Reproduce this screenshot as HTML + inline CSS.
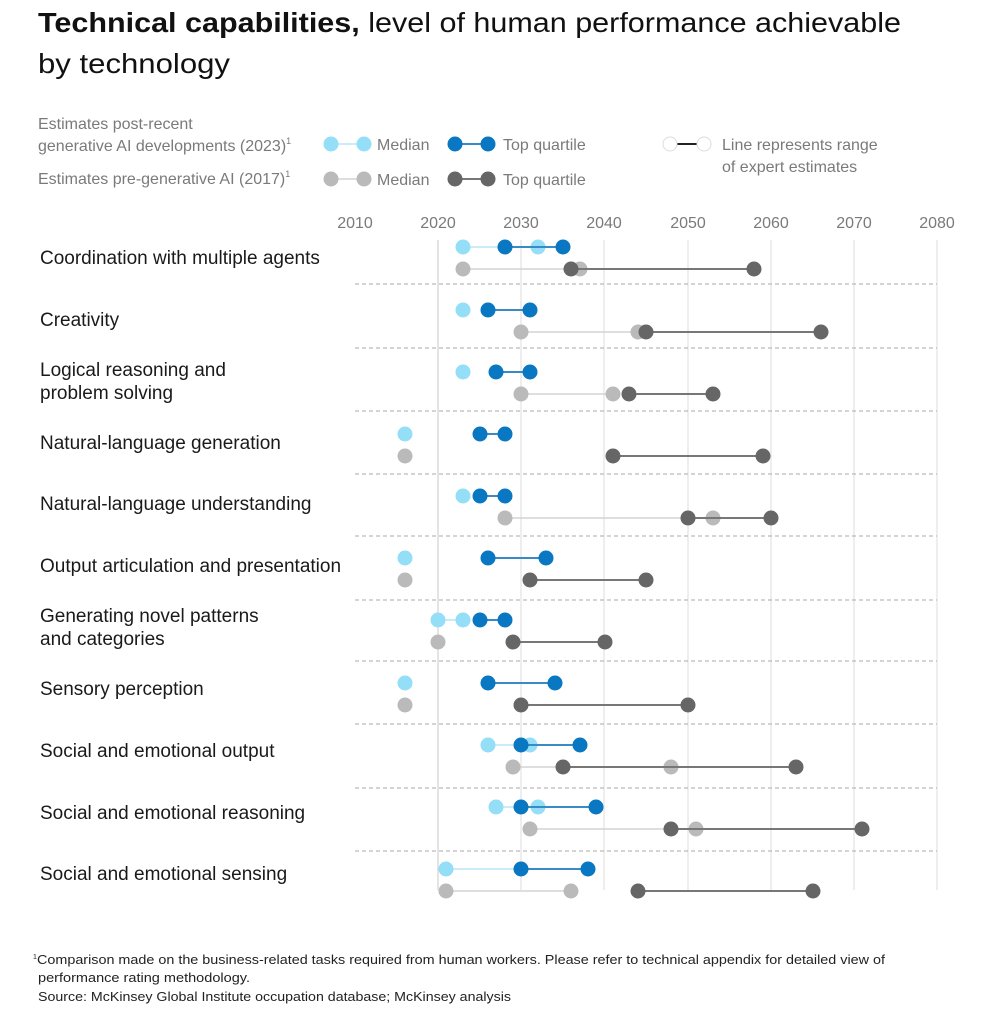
<!DOCTYPE html>
<html><head><meta charset="utf-8"><style>
html,body{margin:0;padding:0;background:#fff;}
svg{display:block;font-family:"Liberation Sans",sans-serif;}
</style></head><body>
<svg width="990" height="1024" viewBox="0 0 990 1024" xmlns="http://www.w3.org/2000/svg">
<text x="38" y="32" font-size="28" fill="#111" textLength="863" lengthAdjust="spacingAndGlyphs"><tspan font-weight="bold">Technical capabilities,</tspan> level of human performance achievable</text>
<text x="38" y="73" font-size="28" fill="#111" textLength="192" lengthAdjust="spacingAndGlyphs">by technology</text>

<g font-size="16" fill="#7a7a7a">
<text x="38" y="129">Estimates post-recent</text>
<text x="38" y="151">generative AI developments (2023)<tspan font-size="9" dy="-7">1</tspan></text>
<text x="38" y="184">Estimates pre-generative AI (2017)<tspan font-size="9" dy="-7">1</tspan></text>
<text x="377" y="150">Median</text><text x="503" y="150">Top quartile</text>
<text x="377" y="185">Median</text><text x="503" y="185">Top quartile</text>
<text x="722" y="150">Line represents range</text>
<text x="722" y="172">of expert estimates</text>
</g>
<g>
<line x1="331" y1="144" x2="364" y2="144" stroke="#b8e6f5" stroke-width="1.5"/>
<circle cx="331" cy="144" r="7.5" fill="#94def7"/><circle cx="364" cy="144" r="7.5" fill="#94def7"/>
<line x1="455" y1="144" x2="488" y2="144" stroke="#3a8ac6" stroke-width="2"/>
<circle cx="455" cy="144" r="7.5" fill="#0a77c2"/><circle cx="488" cy="144" r="7.5" fill="#0a77c2"/>
<line x1="331" y1="179" x2="364" y2="179" stroke="#d4d4d4" stroke-width="1.5"/>
<circle cx="331" cy="179" r="7.5" fill="#bababa"/><circle cx="364" cy="179" r="7.5" fill="#bababa"/>
<line x1="455" y1="179" x2="488" y2="179" stroke="#777" stroke-width="2"/>
<circle cx="455" cy="179" r="7.5" fill="#666"/><circle cx="488" cy="179" r="7.5" fill="#666"/>
<line x1="677" y1="144" x2="697" y2="144" stroke="#222" stroke-width="2"/>
<circle cx="670" cy="144" r="7" fill="#fff" stroke="#ddd"/><circle cx="704" cy="144" r="7" fill="#fff" stroke="#ddd"/>
</g>

<g font-size="16" fill="#7a7a7a" text-anchor="middle">
<text x="355" y="228">2010</text><text x="438" y="228">2020</text><text x="521" y="228">2030</text><text x="604" y="228">2040</text><text x="688" y="228">2050</text><text x="771" y="228">2060</text><text x="854" y="228">2070</text><text x="937" y="228">2080</text>
</g>
<g stroke="#dcdcdc" stroke-width="1">
<line x1="438" y1="240" x2="438" y2="890" stroke="#c8c8c8"/><line x1="521" y1="240" x2="521" y2="890"/><line x1="604" y1="240" x2="604" y2="890"/><line x1="688" y1="240" x2="688" y2="890"/><line x1="771" y1="240" x2="771" y2="890"/><line x1="854" y1="240" x2="854" y2="890"/><line x1="937" y1="240" x2="937" y2="890"/>
</g>
<g stroke="#aaa" stroke-width="1" stroke-dasharray="4,3">
<line x1="355" y1="284" x2="937" y2="284"/><line x1="355" y1="348" x2="937" y2="348"/><line x1="355" y1="411" x2="937" y2="411"/><line x1="355" y1="474" x2="937" y2="474"/><line x1="355" y1="536" x2="937" y2="536"/><line x1="355" y1="600" x2="937" y2="600"/><line x1="355" y1="661" x2="937" y2="661"/><line x1="355" y1="724" x2="937" y2="724"/><line x1="355" y1="788" x2="937" y2="788"/><line x1="355" y1="851" x2="937" y2="851"/>
</g>

<g font-size="19" fill="#1a1a1a">
<text x="40" y="264">Coordination with multiple agents</text>
<text x="40" y="326">Creativity</text>
<text x="40" y="376">Logical reasoning and</text><text x="40" y="399">problem solving</text>
<text x="40" y="449">Natural-language generation</text>
<text x="40" y="510">Natural-language understanding</text>
<text x="40" y="572">Output articulation and presentation</text>
<text x="40" y="622">Generating novel patterns</text><text x="40" y="645">and categories</text>
<text x="40" y="695">Sensory perception</text>
<text x="40" y="757">Social and emotional output</text>
<text x="40" y="819">Social and emotional reasoning</text>
<text x="40" y="880">Social and emotional sensing</text>
</g>

<!-- median lines (light) -->
<g stroke-width="1.5">
<line x1="463" y1="247" x2="538" y2="247" stroke="#b8e6f5"/>
<line x1="463" y1="269" x2="580" y2="269" stroke="#d4d4d4"/>
<line x1="521" y1="332" x2="638" y2="332" stroke="#d4d4d4"/>
<line x1="521" y1="394" x2="613" y2="394" stroke="#d4d4d4"/>
<line x1="505" y1="518" x2="713" y2="518" stroke="#d4d4d4"/>
<line x1="438" y1="620" x2="463" y2="620" stroke="#b8e6f5"/>
<line x1="488" y1="745" x2="530" y2="745" stroke="#b8e6f5"/>
<line x1="513" y1="767" x2="671" y2="767" stroke="#d4d4d4"/>
<line x1="496" y1="807" x2="538" y2="807" stroke="#b8e6f5"/>
<line x1="530" y1="829" x2="696" y2="829" stroke="#d4d4d4"/>
<line x1="446" y1="869" x2="521" y2="869" stroke="#b8e6f5"/>
<line x1="446" y1="891" x2="571" y2="891" stroke="#d4d4d4"/>
</g>
<g fill="#94def7">
<circle cx="463" cy="247" r="7.5"/><circle cx="538" cy="247" r="7.5"/>
<circle cx="463" cy="310" r="7.5"/>
<circle cx="463" cy="372" r="7.5"/>
<circle cx="405" cy="434" r="7.5"/>
<circle cx="463" cy="496" r="7.5"/>
<circle cx="405" cy="558" r="7.5"/>
<circle cx="438" cy="620" r="7.5"/><circle cx="463" cy="620" r="7.5"/>
<circle cx="405" cy="683" r="7.5"/>
<circle cx="488" cy="745" r="7.5"/><circle cx="530" cy="745" r="7.5"/>
<circle cx="496" cy="807" r="7.5"/><circle cx="538" cy="807" r="7.5"/>
<circle cx="446" cy="869" r="7.5"/>
</g>
<g fill="#bababa">
<circle cx="463" cy="269" r="7.5"/><circle cx="580" cy="269" r="7.5"/>
<circle cx="521" cy="332" r="7.5"/><circle cx="638" cy="332" r="7.5"/>
<circle cx="521" cy="394" r="7.5"/><circle cx="613" cy="394" r="7.5"/>
<circle cx="405" cy="456" r="7.5"/>
<circle cx="505" cy="518" r="7.5"/><circle cx="713" cy="518" r="7.5"/>
<circle cx="405" cy="580" r="7.5"/>
<circle cx="438" cy="642" r="7.5"/>
<circle cx="405" cy="705" r="7.5"/>
<circle cx="513" cy="767" r="7.5"/><circle cx="671" cy="767" r="7.5"/>
<circle cx="530" cy="829" r="7.5"/><circle cx="696" cy="829" r="7.5"/>
<circle cx="446" cy="891" r="7.5"/><circle cx="571" cy="891" r="7.5"/>
</g>
<!-- top quartile -->
<g stroke-width="2" stroke="#3a8ac6">
<line x1="505" y1="247" x2="563" y2="247"/>
<line x1="488" y1="310" x2="530" y2="310"/>
<line x1="496" y1="372" x2="530" y2="372"/>
<line x1="480" y1="434" x2="505" y2="434"/>
<line x1="480" y1="496" x2="505" y2="496"/>
<line x1="488" y1="558" x2="546" y2="558"/>
<line x1="480" y1="620" x2="505" y2="620"/>
<line x1="488" y1="683" x2="555" y2="683"/>
<line x1="521" y1="745" x2="580" y2="745"/>
<line x1="521" y1="807" x2="596" y2="807"/>
<line x1="521" y1="869" x2="588" y2="869"/>
</g>
<g stroke-width="2" stroke="#777">
<line x1="571" y1="269" x2="754" y2="269"/>
<line x1="646" y1="332" x2="821" y2="332"/>
<line x1="629" y1="394" x2="713" y2="394"/>
<line x1="613" y1="456" x2="763" y2="456"/>
<line x1="688" y1="518" x2="771" y2="518"/>
<line x1="530" y1="580" x2="646" y2="580"/>
<line x1="513" y1="642" x2="605" y2="642"/>
<line x1="521" y1="705" x2="688" y2="705"/>
<line x1="563" y1="767" x2="796" y2="767"/>
<line x1="671" y1="829" x2="862" y2="829"/>
<line x1="638" y1="891" x2="813" y2="891"/>
</g>
<g fill="#0a77c2">
<circle cx="505" cy="247" r="7.5"/><circle cx="563" cy="247" r="7.5"/>
<circle cx="488" cy="310" r="7.5"/><circle cx="530" cy="310" r="7.5"/>
<circle cx="496" cy="372" r="7.5"/><circle cx="530" cy="372" r="7.5"/>
<circle cx="480" cy="434" r="7.5"/><circle cx="505" cy="434" r="7.5"/>
<circle cx="480" cy="496" r="7.5"/><circle cx="505" cy="496" r="7.5"/>
<circle cx="488" cy="558" r="7.5"/><circle cx="546" cy="558" r="7.5"/>
<circle cx="480" cy="620" r="7.5"/><circle cx="505" cy="620" r="7.5"/>
<circle cx="488" cy="683" r="7.5"/><circle cx="555" cy="683" r="7.5"/>
<circle cx="521" cy="745" r="7.5"/><circle cx="580" cy="745" r="7.5"/>
<circle cx="521" cy="807" r="7.5"/><circle cx="596" cy="807" r="7.5"/>
<circle cx="521" cy="869" r="7.5"/><circle cx="588" cy="869" r="7.5"/>
</g>
<g fill="#666">
<circle cx="571" cy="269" r="7.5"/><circle cx="754" cy="269" r="7.5"/>
<circle cx="646" cy="332" r="7.5"/><circle cx="821" cy="332" r="7.5"/>
<circle cx="629" cy="394" r="7.5"/><circle cx="713" cy="394" r="7.5"/>
<circle cx="613" cy="456" r="7.5"/><circle cx="763" cy="456" r="7.5"/>
<circle cx="688" cy="518" r="7.5"/><circle cx="771" cy="518" r="7.5"/>
<circle cx="530" cy="580" r="7.5"/><circle cx="646" cy="580" r="7.5"/>
<circle cx="513" cy="642" r="7.5"/><circle cx="605" cy="642" r="7.5"/>
<circle cx="521" cy="705" r="7.5"/><circle cx="688" cy="705" r="7.5"/>
<circle cx="563" cy="767" r="7.5"/><circle cx="796" cy="767" r="7.5"/>
<circle cx="671" cy="829" r="7.5"/><circle cx="862" cy="829" r="7.5"/>
<circle cx="638" cy="891" r="7.5"/><circle cx="813" cy="891" r="7.5"/>
</g>

<g font-size="13" fill="#222">
<text x="33" y="959" font-size="7">1</text>
<text x="37" y="964" textLength="848" lengthAdjust="spacingAndGlyphs">Comparison made on the business-related tasks required from human workers. Please refer to technical appendix for detailed view of</text>
<text x="38" y="982" textLength="212" lengthAdjust="spacingAndGlyphs">performance rating methodology.</text>
<text x="38" y="1001" textLength="473" lengthAdjust="spacingAndGlyphs">Source: McKinsey Global Institute occupation database; McKinsey analysis</text>
</g>
</svg>
</body></html>
